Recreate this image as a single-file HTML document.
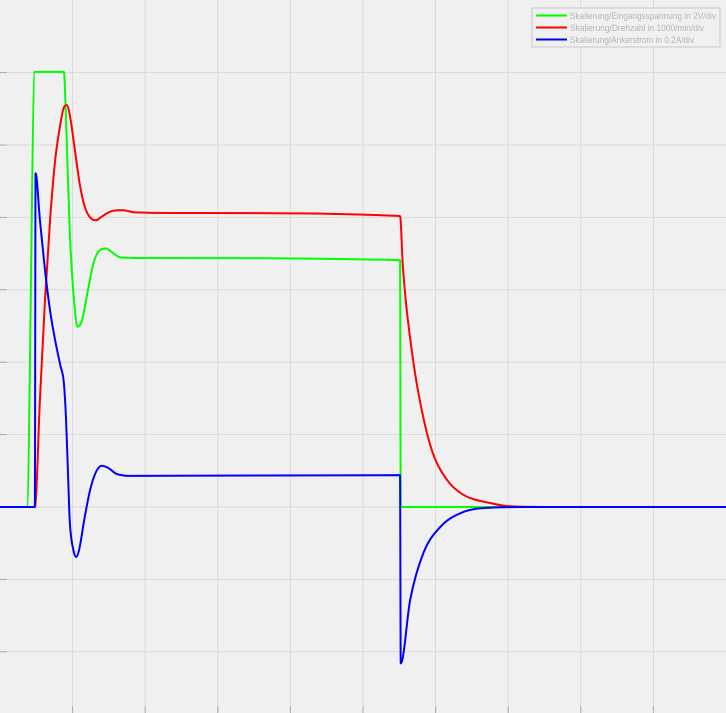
<!DOCTYPE html>
<html><head><meta charset="utf-8"><style>
html,body{margin:0;padding:0;background:#f0f0f0;}
svg{display:block;font-family:"Liberation Sans",sans-serif;}
</style></head><body>
<svg id="chart" width="726" height="713" xmlns="http://www.w3.org/2000/svg">
<rect width="726" height="713" fill="#f0f0f0"/>
<g id="grid"></g>
<g id="series"></g>
<g>
<rect x="532" y="8" width="188" height="39" fill="#f0f0f0" stroke="#c8c8c8"/>
<g>
<line x1="536" y1="15.5" x2="567" y2="15.5" stroke="#00ff00" stroke-width="2"/>
<text x="570" y="19" font-size="9" textLength="146" lengthAdjust="spacingAndGlyphs" fill="#b4b4b4">Skalierung/Eingangsspannung in 2V/div</text></g>
<g>
<line x1="536" y1="27.5" x2="567" y2="27.5" stroke="#ff0000" stroke-width="2"/>
<text x="570" y="31" font-size="9" textLength="134" lengthAdjust="spacingAndGlyphs" fill="#b4b4b4">Skalierung/Drehzahl in 1000/min/div</text></g>
<g>
<line x1="536" y1="39.5" x2="567" y2="39.5" stroke="#0000ff" stroke-width="2"/>
<text x="570" y="43" font-size="9" textLength="124" lengthAdjust="spacingAndGlyphs" fill="#b4b4b4">Skalierung/Ankerstrom in 0.2A/div</text></g>
</g>
</svg>
<script>
const xTicks=[1,2,3,4,5,6,7,8,9];
const yTicks=[-2,-1,0,1,2,3,4,5,6];
const tGreen=[0,0.37,0.48,0.88,0.91,0.96,1.02,1.07,1.13,1.21,1.29,1.38,1.46,1.54,1.65,1.86,5.51,5.52,10];
const vGreen=[0,0,6.01,6.01,5.34,3.82,2.85,2.49,2.58,2.99,3.38,3.55,3.57,3.52,3.45,3.44,3.41,0,0];
const tRed=[0,0.48,0.55,0.62,0.69,0.76,0.83,0.88,0.92,0.96,1.03,1.10,1.17,1.24,1.32,1.40,1.52,1.68,1.86,2.75,5.51,5.55,5.69,5.83,5.96,6.16,6.38,6.75,7.02,7.6,10];
const vRed=[0,0,1.48,2.86,3.97,4.79,5.28,5.52,5.55,5.42,4.94,4.45,4.14,4.0,3.96,4.01,4.08,4.1,4.07,4.06,4.02,3.31,2.03,1.24,0.75,0.37,0.17,0.055,0.01,0,0];
const tBlue=[0,0.48,0.49,0.55,0.62,0.69,0.76,0.83,0.88,0.91,0.94,0.96,1.01,1.05,1.09,1.16,1.24,1.32,1.40,1.49,1.60,1.79,5.51,5.52,5.65,5.83,6.06,6.38,6.75,7.2,10];
const vBlue=[0,0,4.61,3.96,3.27,2.71,2.30,1.96,1.71,1.20,0.37,-0.18,-0.59,-0.69,-0.59,-0.18,0.23,0.48,0.57,0.54,0.46,0.43,0.44,-2.16,-1.28,-0.64,-0.28,-0.07,-0.01,0,0];
const NS="http://www.w3.org/2000/svg";
function xs(t){return t*72.6;}
function ys(v){return 507-v*72.4;}
const grid=document.getElementById('grid');
xTicks.forEach(t=>{
 const l=document.createElementNS(NS,'line');
 l.setAttribute('x1',xs(t));l.setAttribute('x2',xs(t));l.setAttribute('y1',0);l.setAttribute('y2',713);
 l.setAttribute('stroke','#d9d9d9');l.setAttribute('stroke-width','1');
 
 
 grid.appendChild(l);
 const k=document.createElementNS(NS,'line');
 k.setAttribute('x1',xs(t));k.setAttribute('x2',xs(t));k.setAttribute('y1',706);k.setAttribute('y2',713);
 k.setAttribute('stroke','#aaaaaa');
 
 
 grid.appendChild(k);
});
yTicks.forEach(v=>{
 const l=document.createElementNS(NS,'line');
 l.setAttribute('x1',0);l.setAttribute('x2',726);l.setAttribute('y1',ys(v));l.setAttribute('y2',ys(v));
 l.setAttribute('stroke','#d9d9d9');l.setAttribute('stroke-width','1');
 
 
 grid.appendChild(l);
 const k=document.createElementNS(NS,'line');
 k.setAttribute('x1',0);k.setAttribute('x2',7);k.setAttribute('y1',ys(v));k.setAttribute('y2',ys(v));
 k.setAttribute('stroke','#aaaaaa');
 
 
 grid.appendChild(k);
});
function monoPath(X,Y){
 const n=X.length,d=[],m=[];
 for(let i=0;i<n-1;i++){d.push((Y[i+1]-Y[i])/(X[i+1]-X[i]));}
 m[0]=d[0];m[n-1]=d[n-2];
 for(let i=1;i<n-1;i++){m[i]=(d[i-1]*d[i]<=0)?0:(d[i-1]+d[i])/2;}
 for(let i=0;i<n-1;i++){
  if(d[i]===0){m[i]=0;m[i+1]=0;continue;}
  const a=m[i]/d[i],b=m[i+1]/d[i],s=a*a+b*b;
  if(s>9){const t=3/Math.sqrt(s);m[i]=t*a*d[i];m[i+1]=t*b*d[i];}
 }
 let p='M'+X[0].toFixed(1)+','+Y[0].toFixed(1);
 for(let i=0;i<n-1;i++){
  const h=(X[i+1]-X[i])/3;
  p+=' C'+(X[i]+h).toFixed(2)+','+(Y[i]+m[i]*h).toFixed(2)+' '+(X[i+1]-h).toFixed(2)+','+(Y[i+1]-m[i+1]*h).toFixed(2)+' '+X[i+1].toFixed(2)+','+Y[i+1].toFixed(2);
 }
 return p;
}
const ser=document.getElementById('series');
function draw(ts,vs,color,name){
 const p=document.createElementNS(NS,'path');
 p.setAttribute('d',monoPath(ts.map(xs),vs.map(ys)));
 p.setAttribute('fill','none');p.setAttribute('stroke',color);p.setAttribute('stroke-width','2');
 p.setAttribute('stroke-linejoin','round');
 
 
 ser.appendChild(p);
}
draw(tGreen,vGreen,'#00ff00','voltage-line');
draw(tRed,vRed,'#ff0000','speed-line');
draw(tBlue,vBlue,'#0000ff','current-line');
</script>
</body></html>
